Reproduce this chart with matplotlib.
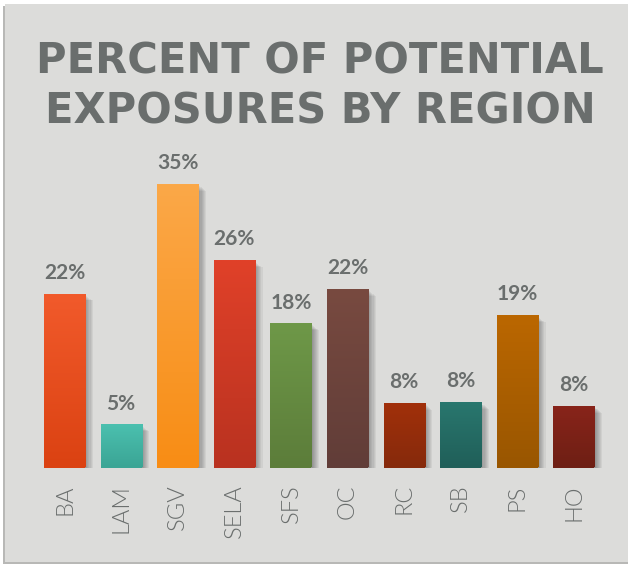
import numpy as np
import matplotlib.pyplot as plt
from matplotlib import patheffects as pe
from matplotlib.colors import to_rgb
from matplotlib.patches import Rectangle

# 数据
regions = ['BA', 'LAM', 'SGV', 'SELA', 'SFS', 'OC', 'RC', 'SB', 'PS', 'HO']
values = [21.4, 5.2, 35.0, 25.5, 17.7, 22.0, 7.9, 8.0, 18.7, 7.5]
labels = ['22%', '5%', '35%', '26%', '18%', '22%', '8%', '8%', '19%', '8%']
top_colors = ['#f15a2b', '#4bc0af', '#fba848', '#e04129', '#6e9848',
              '#784a40', '#a1300a', '#29776e', '#bb6700', '#88241a']
bottom_colors = ['#db4212', '#3ba595', '#f88d15', '#b93220', '#5c7d3a',
                 '#613d38', '#862a0c', '#205f59', '#995600', '#6e1f14']

text_gray = '#6a6e6d'
W, H = 632, 565

fig = plt.figure(figsize=(W / 100, H / 100), dpi=100)
fig.patch.set_facecolor('white')

# 背景面板（带一点阴影）
fig.add_artist(Rectangle((3 / W, 1.5 / H), 625 / W, 558 / H, transform=fig.transFigure,
                         fc='#b8b8b6', ec='none', zorder=0))
fig.add_artist(Rectangle((5 / W, 3 / H), 623 / W, 558 / H, transform=fig.transFigure,
                         fc='#dcdcda', ec='none', zorder=0))

# 标题
fig.text(320 / W, (H - 73) / H, 'PERCENT OF POTENTIAL', ha='center', va='baseline',
         fontsize=30, fontweight='bold', color=text_gray, family='DejaVu Sans')
fig.text(320 / W, (H - 123) / H, 'EXPOSURES BY REGION', ha='center', va='baseline',
         fontsize=30, fontweight='bold', color=text_gray, family='DejaVu Sans')

ax = fig.add_axes([36.2 / W, 97.5 / H, 566 / W, 323.2 / H])
ax.set_facecolor('none')
x = np.arange(len(regions))

shadow = [pe.SimplePatchShadow(offset=(0.8 * k, -0.6 * k), shadow_rgbFace='k', alpha=0.05)
          for k in range(1, 8)]
bars = ax.bar(x, values, width=0.725, color=bottom_colors, zorder=2,
              path_effects=shadow + [pe.Normal()])

# 渐变填充
for b, c1, c2 in zip(bars, top_colors, bottom_colors):
    t = np.linspace(0, 1, 100)[:, None]
    grad = (1 - t) * np.array(to_rgb(c1)) + t * np.array(to_rgb(c2))
    x0, y0 = b.get_x(), b.get_y()
    ax.imshow(grad[:, None, :], extent=[x0, x0 + b.get_width(), y0, y0 + b.get_height()],
              aspect='auto', zorder=3, interpolation='bilinear')

for xi, v, lbl in zip(x, values, labels):
    ax.annotate(lbl, (xi, v), xytext=(0, 11.5), textcoords='offset points',
                ha='center', va='baseline', fontsize=15, fontweight='bold',
                family='Lato', color=text_gray, annotation_clip=False)

ax.set_xlim(-0.5, len(regions) - 0.5)
ax.set_ylim(0, 40)
ax.set_xticks(x)
ax.set_xticklabels(regions, rotation=90, fontsize=17, color=text_gray,
                   family='Lato', fontweight=300)
ax.tick_params(axis='x', length=0, pad=12)
ax.set_yticks([])
for s in ax.spines.values():
    s.set_visible(False)

plt.savefig('out.png', dpi=100)
